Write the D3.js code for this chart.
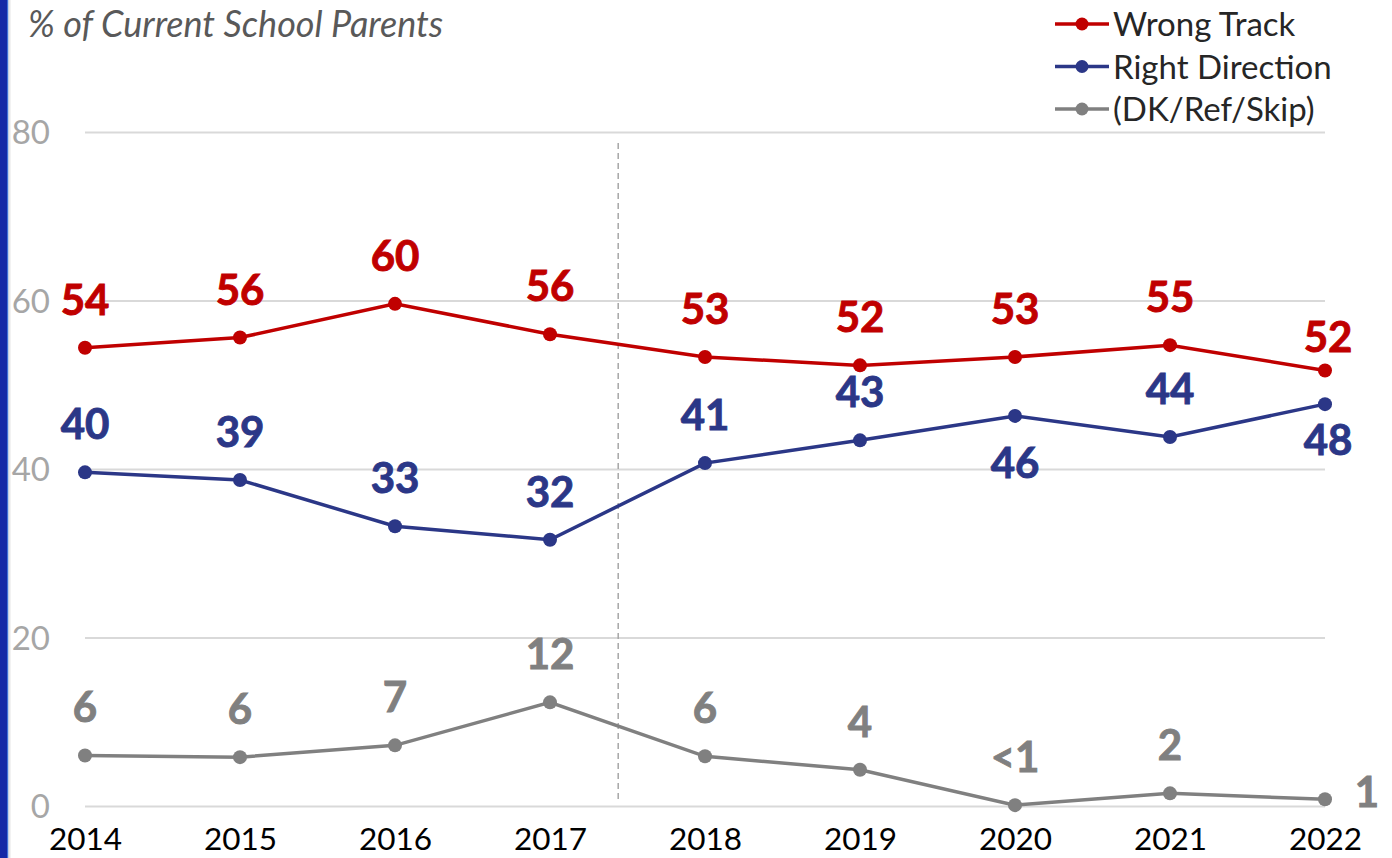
<!DOCTYPE html>
<html><head><meta charset="utf-8">
<script src="https://cdn.jsdelivr.net/npm/d3@7"></script>
<style>
html,body{margin:0;padding:0;background:#fff;}
svg{display:block;}
</style></head>
<body>
<svg id="c" width="1392" height="858"></svg>
<script>
const years = ["2014","2015","2016","2017","2018","2019","2020","2021","2022"];
const wrongTrack = [54.4, 55.6, 59.6, 56.0, 53.3, 52.3, 53.3, 54.7, 51.7];
const rightDirection = [39.6, 38.7, 33.2, 31.6, 40.7, 43.4, 46.3, 43.8, 47.7];
const dkRefSkip = [6.0, 5.8, 7.2, 12.3, 5.9, 4.3, 0.1, 1.5, 0.8];
const wrongLabels = ["54","56","60","56","53","52","53","55","52"];
const rightLabels = ["40","39","33","32","41","43","46","44","48"];
const dkLabels = ["6","6","7","12","6","4","<1","2","1"];
const yTicks = [0, 20, 40, 60, 80];
const seriesNames = ["Wrong Track","Right Direction","(DK/Ref/Skip)"];
const titleText = "% of Current School Parents";

const FONT = "Lato, 'Open Sans', sans-serif";
const colors = ["#c00000", "#2b3787", "#808080"];
const svg = d3.select("#c");

// left accent bar
svg.append("rect").attr("x",0).attr("y",0).attr("width",7).attr("height",858).attr("fill","#1428a6");
svg.append("rect").attr("x",7).attr("y",0).attr("width",1.5).attr("height",858).attr("fill","#3d6fd6");
svg.append("rect").attr("x",8.5).attr("y",0).attr("width",2).attr("height",858).attr("fill","#e6e6e6");

const x = d3.scalePoint().domain(years).range([85, 1325]);
const y = d3.scaleLinear().domain([0, 80]).range([806, 132]);

// gridlines
const yAxis = d3.axisLeft(y).tickValues(yTicks).tickSize(-1240).tickPadding(35).tickFormat(d3.format("d"));
const ga = svg.append("g").attr("transform","translate(85,0)").call(yAxis);
ga.select(".domain").remove();
ga.selectAll(".tick line").attr("stroke","#d9d9d9").attr("stroke-width",2);
ga.selectAll(".tick text").attr("fill","#a6a6a6").attr("font-family",FONT).attr("font-size",33).attr("dy","0.36em");

// x axis labels
const xAxis = d3.axisBottom(x).tickSize(0).tickPadding(22);
const gx = svg.append("g").attr("transform","translate(0,806)").call(xAxis);
gx.select(".domain").remove();
gx.selectAll(".tick text").attr("fill","#000").attr("font-family",FONT).attr("font-size",31.5);

// dashed separator between 2017 and 2018
const sepX = x("2017") + 0.44 * x.step();
svg.append("line").attr("x1",sepX).attr("x2",sepX).attr("y1",143).attr("y2",800)
  .attr("stroke","#a6a6a6").attr("stroke-width",1.5).attr("stroke-dasharray","6,4");

// title
svg.append("text").attr("x",28).attr("y",37).text(titleText)
  .attr("font-family",FONT).attr("font-style","italic").attr("font-size",36).attr("fill","#595959");

const series = [
  {name: seriesNames[0], values: wrongTrack, labels: wrongLabels, color: colors[0]},
  {name: seriesNames[1], values: rightDirection, labels: rightLabels, color: colors[1]},
  {name: seriesNames[2], values: dkRefSkip, labels: dkLabels, color: colors[2]}
];
// label placement overrides (series index -> point index -> [dx, dy])
const placement = {
  "0-8": [3, -18],
  "1-6": [0, 62],
  "1-8": [3, 51],
  "2-8": [42, 8]
};

const line = d3.line().x((d,i)=>x(years[i])).y(d=>y(d));
series.forEach((s, si) => {
  const g = svg.append("g");
  g.append("path").attr("d", line(s.values)).attr("fill","none").attr("stroke",s.color).attr("stroke-width",3.5);
  g.selectAll("circle").data(s.values).join("circle")
    .attr("cx",(d,i)=>x(years[i])).attr("cy",d=>y(d)).attr("r",7).attr("fill",s.color);
  g.selectAll("text").data(s.values).join("text")
    .attr("x",(d,i)=>x(years[i]) + (placement[si+"-"+i] ? placement[si+"-"+i][0] : 0))
    .attr("y",(d,i)=>y(d) + (placement[si+"-"+i] ? placement[si+"-"+i][1] : -33))
    .attr("text-anchor","middle")
    .attr("font-family",FONT).attr("font-weight","bold").attr("font-size",42)
    .attr("fill",s.color).attr("stroke",s.color).attr("stroke-width",0.9)
    .text((d,i)=>s.labels[i]);
});

// legend
const lg = svg.append("g");
series.forEach((s, i) => {
  const ly = 24 + i * 42.5;
  lg.append("line").attr("x1",1055).attr("x2",1109).attr("y1",ly).attr("y2",ly).attr("stroke",s.color).attr("stroke-width",3.5);
  lg.append("circle").attr("cx",1082).attr("cy",ly).attr("r",6.5).attr("fill",s.color);
  lg.append("text").attr("x",1113).attr("y",ly+12).text(s.name)
    .attr("font-family",FONT).attr("font-size",33).attr("fill","#262626");
});
</script>
</body></html>
